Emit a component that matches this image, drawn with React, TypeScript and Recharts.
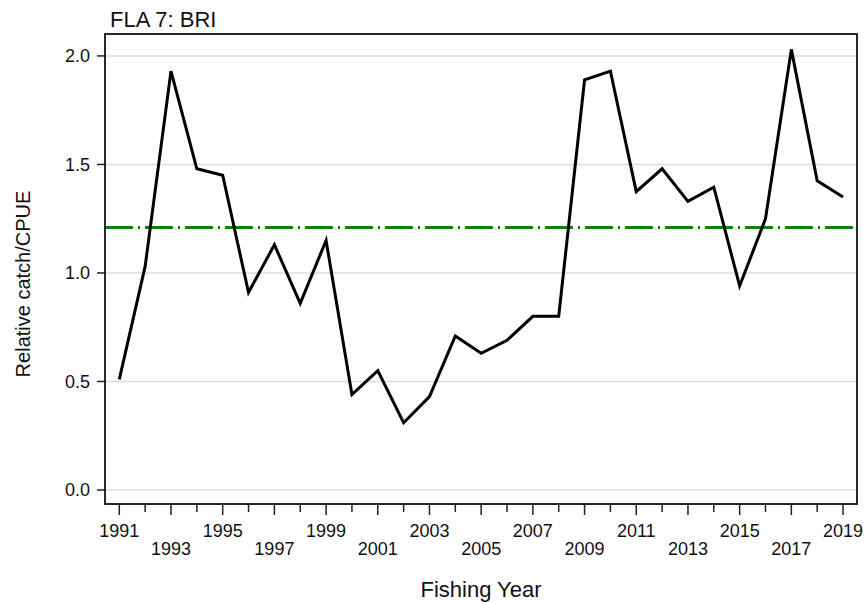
import React from "react";
import {
  LineChart,
  Line,
  XAxis,
  YAxis,
  CartesianGrid,
  ReferenceLine,
} from "recharts";

const years = [
  1991, 1992, 1993, 1994, 1995, 1996, 1997, 1998, 1999, 2000, 2001, 2002,
  2003, 2004, 2005, 2006, 2007, 2008, 2009, 2010, 2011, 2012, 2013, 2014,
  2015, 2016, 2017, 2018, 2019,
];
const cpue = [
  0.51, 1.03, 1.93, 1.48, 1.45, 0.91, 1.13, 0.86, 1.15, 0.44, 0.55, 0.31,
  0.43, 0.71, 0.63, 0.69, 0.8, 0.8, 1.89, 1.93, 1.375, 1.48, 1.33, 1.395,
  0.94, 1.25, 2.03, 1.425, 1.35,
];
const yTicks = [0, 0.5, 1.0, 1.5, 2.0];
const meanLine = 1.21;

const title = "FLA 7: BRI";
const xTitle = "Fishing Year";
const yTitle = "Relative catch/CPUE";

const FONT = '"Liberation Sans", Arial, sans-serif';

// no body margin, so chart coords == page coords
document.body.style.margin = "0";
document.body.style.overflow = "hidden";

const data = years.map((year, i) => ({ year, value: cpue[i] }));

function YearTick(props: any) {
  const { x, y, payload } = props;
  const yr = payload.value as number;
  const idx = yr - years[0];
  const odd = idx % 2 === 0;
  return (
    <g>
      <line x1={x} x2={x} y1={y} y2={y + (odd ? 11 : 8)} stroke="#222" strokeWidth={1.5} />
      {odd && (
        <text
          x={x}
          y={y + (idx % 4 === 0 ? 33 : 51)}
          textAnchor="middle"
          fontSize={18}
          fontFamily={FONT}
          fill="#111"
        >
          {yr}
        </text>
      )}
    </g>
  );
}

export default function App() {
  return (
    <div style={{ position: "relative", width: 866, height: 603, fontFamily: FONT }}>
      <LineChart
        width={866}
        height={603}
        data={data}
        margin={{ top: 34, right: 9, bottom: 39, left: 0 }}
      >
        <CartesianGrid vertical={false} stroke="#dcdcdc" strokeWidth={1.5} />
        <XAxis
          dataKey="year"
          type="number"
          domain={[1990.447, 2019.54]}
          ticks={years}
          interval={0}
          height={60}
          axisLine={false}
          tickLine={false}
          tickSize={0}
          tickMargin={0}
          tick={<YearTick />}
          allowDataOverflow
        />
        <YAxis
          type="number"
          domain={[-0.0645, 2.101]}
          ticks={yTicks}
          width={105}
          axisLine={false}
          tickSize={8}
          tickMargin={7}
          tickLine={{ stroke: "#222", strokeWidth: 1.5 }}
          tickFormatter={(v: number) => v.toFixed(1)}
          tick={{ fontSize: 18, fill: "#111", fontFamily: FONT }}
          allowDataOverflow
        />
        <ReferenceLine
          y={meanLine}
          stroke="#0c830c"
          strokeWidth={3}
          strokeDasharray="28 5 2 5"
        />
        <Line
          type="linear"
          dataKey="value"
          stroke="#000"
          strokeWidth={3}
          dot={false}
          isAnimationActive={false}
        />
      </LineChart>
      <svg
        width={866}
        height={603}
        style={{ position: "absolute", left: 0, top: 0, pointerEvents: "none" }}
      >
        <rect x={105} y={34} width={752} height={470} fill="none" stroke="#111" strokeWidth={1.8} />
        <text x={110} y={27} fontSize={22} fontFamily={FONT} fill="#111">
          {title}
        </text>
        <text x={481} y={597} fontSize={22} fontFamily={FONT} fill="#111" textAnchor="middle">
          {xTitle}
        </text>
        <text
          x={30}
          y={284}
          fontSize={20}
          fontFamily={FONT}
          fill="#111"
          textAnchor="middle"
          transform="rotate(-90, 30, 284)"
        >
          {yTitle}
        </text>
      </svg>
    </div>
  );
}
